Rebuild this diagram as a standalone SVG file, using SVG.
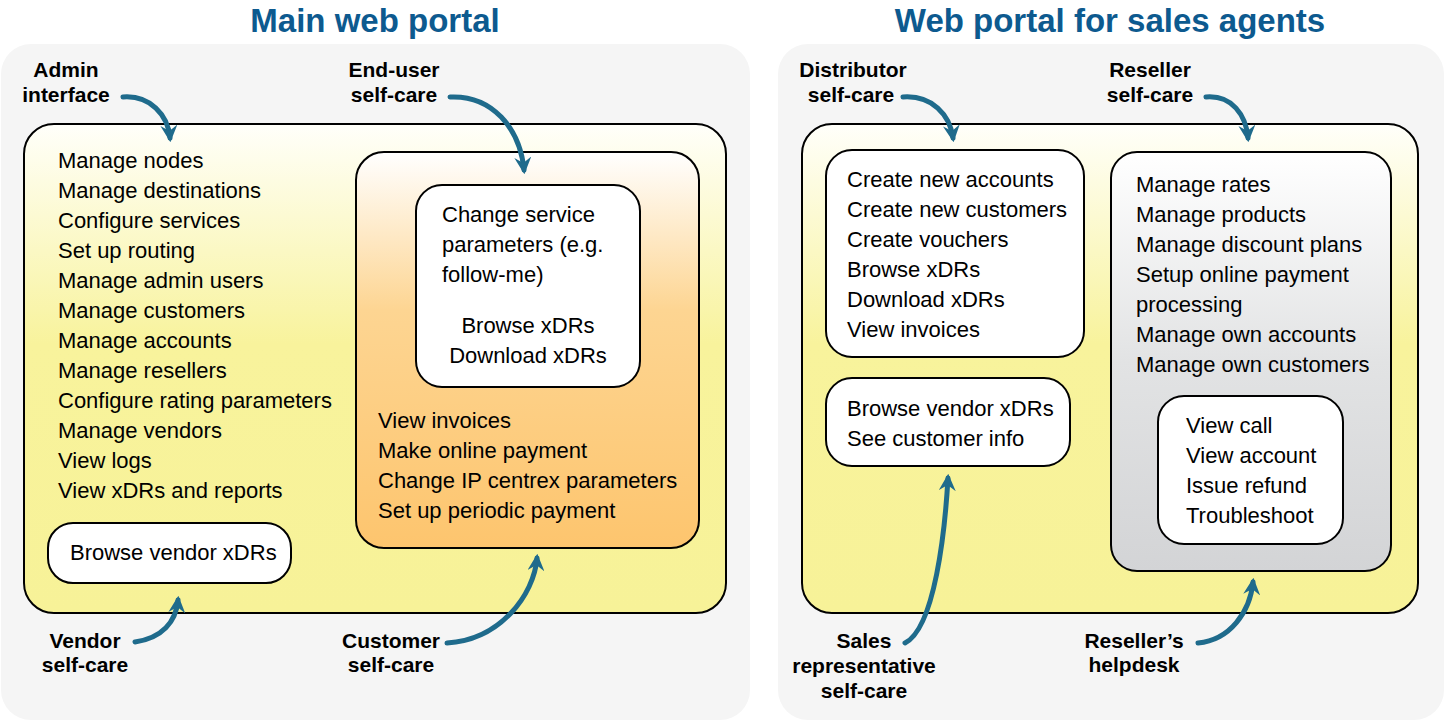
<svg xmlns="http://www.w3.org/2000/svg" width="1444" height="720" viewBox="0 0 1444 720">
<defs>
<linearGradient id="gy" x1="0" y1="0" x2="0" y2="1">
<stop offset="0" stop-color="#fffffa"/><stop offset="0.45" stop-color="#f8f39c"/><stop offset="1" stop-color="#f7f298"/>
</linearGradient>
<linearGradient id="go" x1="0" y1="0" x2="0" y2="1">
<stop offset="0" stop-color="#ffffff"/><stop offset="0.4" stop-color="#fdd592"/><stop offset="1" stop-color="#fdc56e"/>
</linearGradient>
<linearGradient id="gg" x1="0" y1="0" x2="0" y2="1">
<stop offset="0" stop-color="#ffffff"/><stop offset="0.5" stop-color="#e2e3e4"/><stop offset="1" stop-color="#d3d4d6"/>
</linearGradient>
<marker id="ah" viewBox="0 0 12 12" refX="9" refY="6" markerWidth="17" markerHeight="17" markerUnits="userSpaceOnUse" orient="auto">
<path d="M0,0 L12,6 L0,12 L4,6 z" fill="#1f6b8c"/>
</marker>
<style>
.panel{fill:#f5f5f5}
.box{stroke:#000;stroke-width:2}
.t{font-family:"Liberation Sans",Arial,sans-serif;font-size:22px;fill:#000}
.l{font-family:"Liberation Sans",Arial,sans-serif;font-size:21px;font-weight:bold;fill:#000;text-anchor:middle}
.h{font-family:"Liberation Sans",Arial,sans-serif;font-size:33px;font-weight:bold;fill:#0d5a8f;text-anchor:middle}
.c{fill:none;stroke:#1f6b8c;stroke-width:5;stroke-linecap:round;marker-end:url(#ah)}
</style>
</defs>

<g id="main-portal">
<rect class="panel" x="1" y="44" width="749" height="676" rx="30"/>
<text class="h" x="375" y="32">Main web portal</text>
</g>
<g id="sales-portal">
<rect class="panel" x="778" y="44" width="666" height="676" rx="30"/>
<text class="h" x="1110" y="32">Web portal for sales agents</text>
</g>

<g id="admin-interface">
<rect class="box" x="24" y="124" width="702" height="489" rx="30" fill="url(#gy)"/>
<text class="t" x="58" y="168">Manage nodes</text>
<text class="t" x="58" y="198">Manage destinations</text>
<text class="t" x="58" y="228">Configure services</text>
<text class="t" x="58" y="258">Set up routing</text>
<text class="t" x="58" y="288">Manage admin users</text>
<text class="t" x="58" y="318">Manage customers</text>
<text class="t" x="58" y="348">Manage accounts</text>
<text class="t" x="58" y="378">Manage resellers</text>
<text class="t" x="58" y="408">Configure rating parameters</text>
<text class="t" x="58" y="438">Manage vendors</text>
<text class="t" x="58" y="468">View logs</text>
<text class="t" x="58" y="498">View xDRs and reports</text>
</g>

<g id="vendor-box">
<rect class="box" x="48" y="523" width="243" height="60" rx="25" fill="#fff"/>
<text class="t" x="70" y="560">Browse vendor xDRs</text>
</g>

<g id="customer-self-care">
<rect class="box" x="356" y="152" width="343" height="396" rx="28" fill="url(#go)"/>
<text class="t" x="378" y="428">View invoices</text>
<text class="t" x="378" y="458">Make online payment</text>
<text class="t" x="378" y="488">Change IP centrex parameters</text>
<text class="t" x="378" y="518">Set up periodic payment</text>
</g>

<g id="end-user-self-care">
<rect class="box" x="416" y="185" width="224" height="202" rx="26" fill="#fff"/>
<text class="t" x="442" y="222">Change service</text>
<text class="t" x="442" y="252">parameters (e.g.</text>
<text class="t" x="442" y="282">follow-me)</text>
<text class="t" x="528" y="333" text-anchor="middle">Browse xDRs</text>
<text class="t" x="528" y="363" text-anchor="middle">Download xDRs</text>
</g>

<g id="sales-area">
<rect class="box" x="802" y="124" width="616" height="489" rx="30" fill="url(#gy)"/>
</g>

<g id="distributor-box">
<rect class="box" x="826" y="150" width="258" height="207" rx="26" fill="#fff"/>
<text class="t" x="847" y="187">Create new accounts</text>
<text class="t" x="847" y="217">Create new customers</text>
<text class="t" x="847" y="247">Create vouchers</text>
<text class="t" x="847" y="277">Browse xDRs</text>
<text class="t" x="847" y="307">Download xDRs</text>
<text class="t" x="847" y="337">View invoices</text>
</g>

<g id="sales-rep-box">
<rect class="box" x="826" y="378" width="244" height="88" rx="26" fill="#fff"/>
<text class="t" x="847" y="416">Browse vendor xDRs</text>
<text class="t" x="847" y="446">See customer info</text>
</g>

<g id="reseller-box">
<rect class="box" x="1111" y="152" width="280" height="419" rx="26" fill="url(#gg)"/>
<text class="t" x="1136" y="192">Manage rates</text>
<text class="t" x="1136" y="222">Manage products</text>
<text class="t" x="1136" y="252">Manage discount plans</text>
<text class="t" x="1136" y="282">Setup online payment</text>
<text class="t" x="1136" y="312">processing</text>
<text class="t" x="1136" y="342">Manage own accounts</text>
<text class="t" x="1136" y="372">Manage own customers</text>
</g>

<g id="helpdesk-box">
<rect class="box" x="1158" y="396" width="185" height="148" rx="26" fill="#fff"/>
<text class="t" x="1186" y="433">View call</text>
<text class="t" x="1186" y="463">View account</text>
<text class="t" x="1186" y="493">Issue refund</text>
<text class="t" x="1186" y="523">Troubleshoot</text>
</g>

<g id="labels">
<text class="l" x="66" y="77">Admin</text>
<text class="l" x="66" y="102">interface</text>
<text class="l" x="394" y="77">End-user</text>
<text class="l" x="394" y="102">self-care</text>
<text class="l" x="85" y="648">Vendor</text>
<text class="l" x="85" y="672">self-care</text>
<text class="l" x="391" y="648">Customer</text>
<text class="l" x="391" y="672">self-care</text>
<text class="l" x="853" y="77">Distributor</text>
<text class="l" x="851" y="102">self-care</text>
<text class="l" x="1150" y="77">Reseller</text>
<text class="l" x="1150" y="102">self-care</text>
<text class="l" x="864" y="648">Sales</text>
<text class="l" x="864" y="673">representative</text>
<text class="l" x="864" y="698">self-care</text>
<text class="l" x="1134" y="648">Reseller’s</text>
<text class="l" x="1134" y="672">helpdesk</text>
</g>

<g id="connectors">
<path class="c" d="M123,97 C150,95 168,115 170,138"/>
<path class="c" d="M450,97 C492,95 520,128 524,170"/>
<path class="c" d="M135,642 C162,638 176,622 178,600"/>
<path class="c" d="M447,643 C500,640 534,595 537,558"/>
<path class="c" d="M903,97 C932,95 950,115 953,138"/>
<path class="c" d="M1206,97 C1232,95 1246,115 1248,138"/>
<path class="c" d="M905,643 C935,628 945,530 948,478"/>
<path class="c" d="M1198,643 C1230,640 1250,612 1253,582"/>
</g>
</svg>
